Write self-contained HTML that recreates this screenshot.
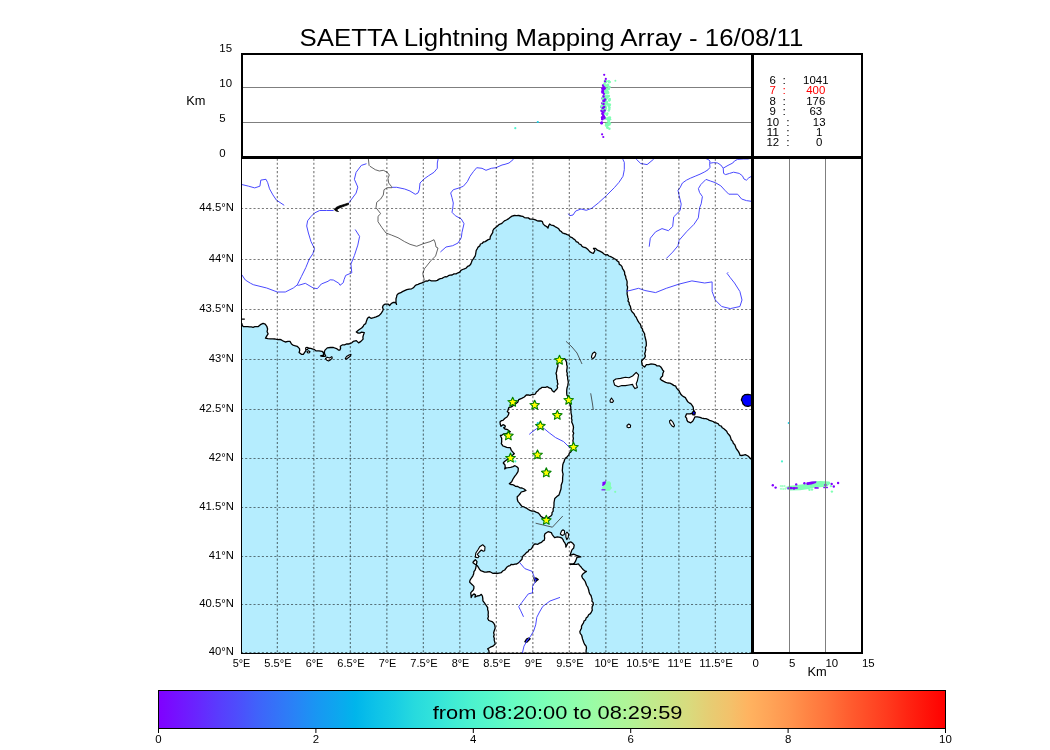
<!DOCTYPE html>
<html><head><meta charset="utf-8"><style>
html,body{margin:0;padding:0;background:#fff;width:1050px;height:750px;overflow:hidden}
svg{display:block;will-change:transform}
text{font-family:"Liberation Sans",sans-serif}
</style></head><body>
<svg width="1050" height="750" viewBox="0 0 1050 750">
<defs><clipPath id="mapclip"><rect x="241.5" y="157" width="510" height="496"/></clipPath></defs><g clip-path="url(#mapclip)"><rect x="241" y="157" width="511" height="496" fill="#b5edfe"/><polygon points="241.7,323.1 242.3,325.3 243.3,326.6 246.0,326.6 247.8,326.6 249.5,326.9 251.3,326.9 253.1,327.3 254.8,326.7 256.6,326.7 258.3,326.6 260.4,324.7 263.1,323.4 265.2,324.2 266.8,326.3 267.6,329.0 267.1,331.7 268.1,333.8 266.8,335.9 265.5,338.1 267.9,338.6 270.3,338.8 272.7,338.9 275.2,339.0 277.5,339.7 280.0,339.3 281.8,340.2 283.5,341.2 285.3,342.0 288.0,341.4 290.0,341.4 291.5,344.0 292.9,345.1 294.6,345.6 297.2,346.3 299.5,348.6 299.7,350.5 299.1,352.4 301.4,354.3 303.3,354.3 305.2,351.7 306.0,350.1 306.4,348.6 308.7,348.2 310.8,348.4 312.9,349.0 314.6,349.6 315.9,350.9 319.0,350.9 322.0,351.3 323.5,352.8 323.5,355.1 320.5,355.9 322.2,356.3 324.0,356.3 325.8,356.2 324.7,354.0 324.3,352.0 325.0,350.1 327.3,347.9 330.4,347.5 333.4,347.5 336.5,348.6 338.4,350.1 339.9,350.1 340.6,348.3 340.3,346.3 342.6,344.8 344.6,344.9 346.4,344.0 348.3,344.0 350.2,343.7 351.8,342.7 353.2,341.4 356.3,340.6 358.6,342.9 360.9,341.4 363.1,339.1 362.9,337.0 363.5,334.9 364.3,332.6 361.6,332.2 359.8,333.1 357.8,333.0 356.3,331.9 358.6,330.0 360.1,329.0 361.6,328.0 363.1,326.5 364.0,324.7 365.7,323.6 366.5,320.9 367.5,318.3 369.1,316.9 371.0,318.3 373.7,317.7 376.1,316.9 379.0,315.6 381.1,313.5 382.7,310.8 383.3,309.5 382.5,307.3 383.3,305.2 385.1,304.1 388.0,304.1 389.6,305.5 391.2,303.6 393.4,302.3 395.5,302.5 396.6,304.4 396.0,302.6 396.0,300.7 396.0,298.8 396.6,296.9 396.9,295.1 398.2,293.7 400.8,292.7 402.4,291.6 404.6,290.6 406.8,289.6 409.2,289.1 411.6,288.8 413.4,287.8 414.8,286.1 416.4,284.8 418.1,284.3 419.6,283.6 421.3,283.2 422.8,282.4 424.4,281.8 425.9,281.0 427.8,281.1 429.2,280.0 431.3,280.8 433.4,280.9 435.6,280.8 437.3,280.4 438.7,279.4 440.3,278.7 442.0,278.4 443.5,277.5 445.0,276.7 446.9,276.8 448.4,275.7 450.0,275.2 452.1,275.0 454.0,273.9 456.1,273.9 458.0,272.8 459.8,272.1 460.9,270.3 462.6,269.5 464.4,268.8 466.3,268.0 467.6,266.4 469.5,265.6 470.8,264.0 471.5,262.3 472.0,260.6 473.2,259.2 474.1,257.7 475.1,256.1 475.6,254.4 475.9,252.5 476.2,250.5 477.2,248.8 478.1,247.1 479.8,245.9 480.4,244.0 482.1,243.5 483.4,242.0 485.2,241.6 486.7,240.6 488.2,239.6 490.0,239.2 490.3,236.6 491.6,234.4 492.7,232.7 492.9,230.5 494.0,228.8 495.4,227.8 496.6,226.6 498.0,225.6 499.4,224.3 501.3,223.7 502.8,222.4 504.4,220.9 506.4,220.0 508.3,218.9 510.0,217.5 512.0,216.1 514.4,215.5 516.5,215.6 518.7,215.5 520.8,216.0 522.7,216.3 524.4,217.6 526.3,217.9 528.3,217.9 530.0,219.1 532.0,219.2 533.8,219.3 535.5,219.9 537.1,220.8 538.9,221.0 540.8,220.8 542.4,221.6 543.1,223.9 544.8,225.6 546.6,226.5 548.0,228.0 548.6,225.9 549.6,224.0 551.1,225.1 552.9,225.4 554.5,226.2 556.0,227.2 557.6,228.0 558.9,229.1 559.8,230.6 561.3,231.5 562.4,232.8 564.0,233.5 565.6,233.9 567.2,234.6 568.8,235.2 570.1,236.8 572.0,237.6 573.6,238.9 575.2,240.0 576.2,241.6 578.1,242.4 579.2,244.0 580.9,244.6 581.9,246.2 583.4,247.1 585.2,247.5 586.7,248.4 588.0,249.6 590.0,251.9 591.7,252.8 593.5,253.3 594.9,250.5 593.5,248.4 595.6,248.4 597.4,250.2 599.8,251.2 602.1,252.3 604.0,254.0 605.7,254.8 607.5,254.7 608.9,256.0 610.7,256.7 612.4,257.5 614.1,258.6 615.9,259.5 617.3,261.0 618.9,262.1 619.2,264.1 620.8,265.2 622.0,266.7 622.5,268.6 623.6,270.1 624.6,272.1 624.7,274.4 625.7,276.4 625.9,278.2 626.6,279.9 627.1,281.6 627.1,283.4 626.9,285.1 627.6,286.9 627.4,288.6 627.1,290.4 627.2,292.2 627.1,293.9 627.5,295.7 627.8,297.4 628.4,299.1 628.0,301.0 629.2,302.6 629.2,304.4 630.4,306.3 630.8,308.5 631.3,310.7 632.5,312.3 634.0,313.7 634.8,315.6 636.2,317.2 637.0,319.0 637.9,320.9 639.0,322.6 640.2,324.0 640.9,325.7 641.2,327.5 642.5,328.9 642.7,330.7 643.7,332.2 644.6,333.8 644.8,335.9 645.3,338.0 645.8,340.0 646.2,341.9 646.3,343.8 646.3,345.8 645.3,347.7 645.8,349.6 645.3,351.7 644.7,353.7 645.4,356.0 644.6,358.0 643.0,359.4 641.6,361.0 641.9,363.1 642.2,365.2 644.6,367.0 646.4,364.6 648.5,364.6 650.6,364.0 653.0,364.1 655.4,364.6 657.0,365.9 659.2,365.8 660.8,367.0 661.8,368.4 662.6,370.0 663.8,371.2 662.8,373.5 662.6,376.0 661.2,377.3 660.2,379.0 661.9,380.4 663.8,381.4 665.7,382.3 667.7,383.0 669.8,383.2 671.9,384.1 673.7,385.4 675.8,386.2 676.4,387.9 677.5,389.2 678.8,390.4 679.8,392.2 680.6,394.0 682.0,395.5 683.6,396.7 685.4,397.6 686.5,399.7 687.8,401.8 689.2,402.8 690.8,403.6 692.1,405.3 693.2,407.2 693.4,409.0 693.8,410.8 693.6,413.5 691.8,413.5 690.0,413.8 686.6,413.8 685.4,416.8 686.6,418.2 686.9,420.1 687.8,421.6 690.8,422.8 692.7,421.3 693.8,419.2 695.0,416.8 697.4,416.8 700.0,417.4 701.9,418.2 703.9,418.5 706.0,418.7 707.8,419.3 709.4,420.4 711.3,420.9 713.1,421.5 714.7,422.6 716.6,423.0 718.3,423.8 719.3,425.5 721.3,426.1 722.3,427.8 723.9,428.8 725.3,430.0 726.7,431.3 727.5,433.1 728.8,434.5 730.0,436.0 730.7,437.9 731.2,439.8 732.7,441.4 733.3,443.3 734.8,444.7 735.5,446.5 736.1,448.4 737.3,450.0 738.5,451.6 739.4,453.4 740.0,455.3 741.8,455.5 743.6,455.1 745.3,454.7 748.0,456.0 749.5,457.5 751.0,459.0 752.5,460.0 753.0,459.0 753.0,150.0 240.0,150.0 240.0,323.1" fill="#fff"/><polyline points="241.7,323.1 242.3,325.3 243.3,326.6 246.0,326.6 247.8,326.6 249.5,326.9 251.3,326.9 253.1,327.3 254.8,326.7 256.6,326.7 258.3,326.6 260.4,324.7 263.1,323.4 265.2,324.2 266.8,326.3 267.6,329.0 267.1,331.7 268.1,333.8 266.8,335.9 265.5,338.1 267.9,338.6 270.3,338.8 272.7,338.9 275.2,339.0 277.5,339.7 280.0,339.3 281.8,340.2 283.5,341.2 285.3,342.0 288.0,341.4 290.0,341.4 291.5,344.0 292.9,345.1 294.6,345.6 297.2,346.3 299.5,348.6 299.7,350.5 299.1,352.4 301.4,354.3 303.3,354.3 305.2,351.7 306.0,350.1 306.4,348.6 308.7,348.2 310.8,348.4 312.9,349.0 314.6,349.6 315.9,350.9 319.0,350.9 322.0,351.3 323.5,352.8 323.5,355.1 320.5,355.9 322.2,356.3 324.0,356.3 325.8,356.2 324.7,354.0 324.3,352.0 325.0,350.1 327.3,347.9 330.4,347.5 333.4,347.5 336.5,348.6 338.4,350.1 339.9,350.1 340.6,348.3 340.3,346.3 342.6,344.8 344.6,344.9 346.4,344.0 348.3,344.0 350.2,343.7 351.8,342.7 353.2,341.4 356.3,340.6 358.6,342.9 360.9,341.4 363.1,339.1 362.9,337.0 363.5,334.9 364.3,332.6 361.6,332.2 359.8,333.1 357.8,333.0 356.3,331.9 358.6,330.0 360.1,329.0 361.6,328.0 363.1,326.5 364.0,324.7 365.7,323.6 366.5,320.9 367.5,318.3 369.1,316.9 371.0,318.3 373.7,317.7 376.1,316.9 379.0,315.6 381.1,313.5 382.7,310.8 383.3,309.5 382.5,307.3 383.3,305.2 385.1,304.1 388.0,304.1 389.6,305.5 391.2,303.6 393.4,302.3 395.5,302.5 396.6,304.4 396.0,302.6 396.0,300.7 396.0,298.8 396.6,296.9 396.9,295.1 398.2,293.7 400.8,292.7 402.4,291.6 404.6,290.6 406.8,289.6 409.2,289.1 411.6,288.8 413.4,287.8 414.8,286.1 416.4,284.8 418.1,284.3 419.6,283.6 421.3,283.2 422.8,282.4 424.4,281.8 425.9,281.0 427.8,281.1 429.2,280.0 431.3,280.8 433.4,280.9 435.6,280.8 437.3,280.4 438.7,279.4 440.3,278.7 442.0,278.4 443.5,277.5 445.0,276.7 446.9,276.8 448.4,275.7 450.0,275.2 452.1,275.0 454.0,273.9 456.1,273.9 458.0,272.8 459.8,272.1 460.9,270.3 462.6,269.5 464.4,268.8 466.3,268.0 467.6,266.4 469.5,265.6 470.8,264.0 471.5,262.3 472.0,260.6 473.2,259.2 474.1,257.7 475.1,256.1 475.6,254.4 475.9,252.5 476.2,250.5 477.2,248.8 478.1,247.1 479.8,245.9 480.4,244.0 482.1,243.5 483.4,242.0 485.2,241.6 486.7,240.6 488.2,239.6 490.0,239.2 490.3,236.6 491.6,234.4 492.7,232.7 492.9,230.5 494.0,228.8 495.4,227.8 496.6,226.6 498.0,225.6 499.4,224.3 501.3,223.7 502.8,222.4 504.4,220.9 506.4,220.0 508.3,218.9 510.0,217.5 512.0,216.1 514.4,215.5 516.5,215.6 518.7,215.5 520.8,216.0 522.7,216.3 524.4,217.6 526.3,217.9 528.3,217.9 530.0,219.1 532.0,219.2 533.8,219.3 535.5,219.9 537.1,220.8 538.9,221.0 540.8,220.8 542.4,221.6 543.1,223.9 544.8,225.6 546.6,226.5 548.0,228.0 548.6,225.9 549.6,224.0 551.1,225.1 552.9,225.4 554.5,226.2 556.0,227.2 557.6,228.0 558.9,229.1 559.8,230.6 561.3,231.5 562.4,232.8 564.0,233.5 565.6,233.9 567.2,234.6 568.8,235.2 570.1,236.8 572.0,237.6 573.6,238.9 575.2,240.0 576.2,241.6 578.1,242.4 579.2,244.0 580.9,244.6 581.9,246.2 583.4,247.1 585.2,247.5 586.7,248.4 588.0,249.6 590.0,251.9 591.7,252.8 593.5,253.3 594.9,250.5 593.5,248.4 595.6,248.4 597.4,250.2 599.8,251.2 602.1,252.3 604.0,254.0 605.7,254.8 607.5,254.7 608.9,256.0 610.7,256.7 612.4,257.5 614.1,258.6 615.9,259.5 617.3,261.0 618.9,262.1 619.2,264.1 620.8,265.2 622.0,266.7 622.5,268.6 623.6,270.1 624.6,272.1 624.7,274.4 625.7,276.4 625.9,278.2 626.6,279.9 627.1,281.6 627.1,283.4 626.9,285.1 627.6,286.9 627.4,288.6 627.1,290.4 627.2,292.2 627.1,293.9 627.5,295.7 627.8,297.4 628.4,299.1 628.0,301.0 629.2,302.6 629.2,304.4 630.4,306.3 630.8,308.5 631.3,310.7 632.5,312.3 634.0,313.7 634.8,315.6 636.2,317.2 637.0,319.0 637.9,320.9 639.0,322.6 640.2,324.0 640.9,325.7 641.2,327.5 642.5,328.9 642.7,330.7 643.7,332.2 644.6,333.8 644.8,335.9 645.3,338.0 645.8,340.0 646.2,341.9 646.3,343.8 646.3,345.8 645.3,347.7 645.8,349.6 645.3,351.7 644.7,353.7 645.4,356.0 644.6,358.0 643.0,359.4 641.6,361.0 641.9,363.1 642.2,365.2 644.6,367.0 646.4,364.6 648.5,364.6 650.6,364.0 653.0,364.1 655.4,364.6 657.0,365.9 659.2,365.8 660.8,367.0 661.8,368.4 662.6,370.0 663.8,371.2 662.8,373.5 662.6,376.0 661.2,377.3 660.2,379.0 661.9,380.4 663.8,381.4 665.7,382.3 667.7,383.0 669.8,383.2 671.9,384.1 673.7,385.4 675.8,386.2 676.4,387.9 677.5,389.2 678.8,390.4 679.8,392.2 680.6,394.0 682.0,395.5 683.6,396.7 685.4,397.6 686.5,399.7 687.8,401.8 689.2,402.8 690.8,403.6 692.1,405.3 693.2,407.2 693.4,409.0 693.8,410.8 693.6,413.5 691.8,413.5 690.0,413.8 686.6,413.8 685.4,416.8 686.6,418.2 686.9,420.1 687.8,421.6 690.8,422.8 692.7,421.3 693.8,419.2 695.0,416.8 697.4,416.8 700.0,417.4 701.9,418.2 703.9,418.5 706.0,418.7 707.8,419.3 709.4,420.4 711.3,420.9 713.1,421.5 714.7,422.6 716.6,423.0 718.3,423.8 719.3,425.5 721.3,426.1 722.3,427.8 723.9,428.8 725.3,430.0 726.7,431.3 727.5,433.1 728.8,434.5 730.0,436.0 730.7,437.9 731.2,439.8 732.7,441.4 733.3,443.3 734.8,444.7 735.5,446.5 736.1,448.4 737.3,450.0 738.5,451.6 739.4,453.4 740.0,455.3 741.8,455.5 743.6,455.1 745.3,454.7 748.0,456.0 749.5,457.5 751.0,459.0 752.5,460.0" fill="none" stroke="#000" stroke-width="1.3" stroke-linejoin="round"/><polygon points="560.7,358.7 562.7,359.1 564.7,358.7 565.9,360.6 566.7,362.7 566.6,364.5 567.2,366.2 567.1,368.0 566.8,369.8 566.7,371.6 567.3,373.3 567.0,375.1 567.7,376.9 567.6,378.7 568.0,380.4 568.3,382.2 568.0,384.0 567.7,385.9 567.1,387.7 566.8,389.5 566.7,391.4 566.7,393.3 566.9,395.3 568.3,396.8 568.7,398.7 569.5,400.4 569.6,402.2 570.0,404.0 570.5,405.7 570.8,407.5 570.7,409.3 571.0,411.1 571.0,412.9 571.4,414.6 571.8,416.4 571.4,418.3 572.0,420.0 571.7,422.0 572.5,423.8 573.2,425.7 573.5,427.6 573.2,429.6 572.8,431.4 573.7,433.3 573.0,435.1 573.1,436.9 573.4,438.7 572.9,440.6 573.2,442.4 573.2,444.4 572.6,446.3 571.8,448.2 571.8,450.2 570.8,452.0 569.4,453.0 568.8,454.8 567.7,456.1 566.7,457.4 565.2,458.4 564.5,460.0 564.1,461.6 563.3,463.1 562.8,464.8 562.6,466.7 562.5,468.5 562.3,470.4 562.6,472.3 563.1,474.1 562.8,476.0 562.6,477.9 562.6,479.8 562.5,481.7 561.8,483.5 561.2,485.3 561.2,487.2 560.9,489.3 560.2,491.3 559.6,493.2 558.8,495.2 557.3,496.1 556.1,497.3 554.8,498.4 554.4,500.5 554.0,502.6 554.0,504.8 553.8,506.9 553.1,509.0 553.2,511.2 552.0,512.6 552.0,514.6 550.8,516.0 548.9,517.3 547.6,519.2 545.3,518.2 542.8,517.6 540.9,516.3 539.6,514.4 538.0,512.8 536.0,512.1 534.1,511.2 532.0,511.1 530.0,510.4 528.4,509.5 527.0,508.4 525.3,507.7 523.8,506.8 522.0,506.4 520.6,504.8 519.5,503.1 518.0,501.6 517.3,499.3 517.2,496.8 518.7,495.4 520.1,493.8 521.2,492.0 523.6,491.3 526.0,490.4 524.1,489.0 522.0,488.0 519.8,487.8 517.8,486.5 515.6,486.4 514.2,485.3 512.6,484.6 510.8,484.5 509.3,483.7 511.7,481.7 513.0,479.0 514.7,476.3 516.3,474.3 518.0,471.7 518.2,470.0 518.3,468.3 516.8,466.7 515.0,465.7 513.0,466.7 510.7,467.4 508.3,467.7 506.3,467.9 504.7,469.0 505.2,467.0 505.0,465.0 503.3,463.0 504.3,461.7 506.5,460.0 508.2,458.9 510.0,458.0 511.0,456.2 512.7,455.0 514.3,453.7 513.3,452.7 511.3,450.3 510.3,447.7 508.5,447.6 506.7,447.3 504.9,446.6 503.0,446.0 501.3,443.7 501.7,441.9 501.6,440.1 501.7,438.3 500.3,435.5 501.7,435.3 503.5,434.0 505.7,433.7 508.1,433.0 510.3,431.7 507.7,429.7 505.0,429.0 503.7,427.7 505.3,427.0 505.0,425.7 503.0,424.7 501.0,426.3 500.3,424.3 500.0,422.0 501.3,420.7 503.0,420.3 505.0,418.3 507.0,417.0 508.3,415.0 509.0,412.7 507.3,411.7 508.0,410.3 509.0,407.3 510.7,407.1 512.3,406.3 515.0,404.3 517.7,402.3 518.7,399.7 521.7,398.3 524.3,397.0 526.3,395.0 528.2,394.8 530.0,395.3 531.7,394.7 533.6,394.7 535.3,394.0 536.3,392.1 538.0,390.7 539.1,389.3 540.7,388.4 542.0,387.3 543.8,387.3 545.6,387.3 547.3,386.7 549.2,387.9 551.3,388.7 552.3,390.7 554.0,392.0 555.3,390.6 556.7,389.3 557.6,387.7 557.1,385.7 558.0,384.0 557.4,382.4 557.4,380.6 556.8,379.0 556.7,377.3 556.6,375.3 556.0,373.3 556.6,371.6 556.9,369.8 557.3,368.0 557.9,366.3 557.8,364.5 558.0,362.7 559.2,360.6" fill="#fff" stroke="#000" stroke-width="1.3" stroke-linejoin="round"/><polygon points="489.3,653.5 488.8,650.4 487.7,648.8 490.4,647.2 493.1,646.1 495.2,644.0 494.7,641.9 494.2,640.1 494.3,638.2 493.6,636.5 494.2,634.8 493.6,632.9 494.1,631.2 495.2,628.0 494.7,624.8 493.6,623.0 492.0,621.6 488.8,620.5 487.7,618.4 488.4,616.7 488.1,614.9 488.3,613.1 488.2,611.3 487.6,609.5 487.7,607.7 486.7,606.1 485.6,604.5 484.3,602.6 482.9,600.8 482.8,598.4 482.4,596.0 481.3,594.4 479.4,595.7 477.1,596.0 474.9,597.1 475.5,594.9 473.9,593.9 472.1,595.4 471.2,597.6 471.0,595.2 470.7,592.8 471.9,591.4 473.3,590.1 473.9,588.3 473.9,586.4 472.5,584.9 471.0,583.5 469.6,582.1 470.1,580.0 471.7,577.7 472.9,575.8 473.7,573.7 473.9,571.7 475.1,570.1 475.7,568.3 476.3,565.0 477.0,561.7 475.3,559.7 473.3,561.7 473.0,562.7 474.7,564.0 477.3,565.7 478.4,567.3 479.3,569.0 480.7,570.6 482.7,571.3 484.6,572.1 486.7,572.0 490.0,571.7 492.7,573.3 494.7,573.1 496.7,573.5 499.0,573.1 501.3,572.7 502.7,571.0 504.7,570.0 506.7,567.3 508.2,566.2 510.0,565.6 511.3,564.3 513.1,564.6 514.9,564.1 516.7,564.0 519.3,562.3 520.5,560.7 522.0,559.3 522.2,557.6 523.0,556.0 524.9,554.3 526.6,552.4 528.2,551.6 529.0,549.8 530.8,549.3 532.0,547.9 533.1,545.5 535.0,543.8 537.8,544.3 539.5,543.1 541.5,542.4 542.7,541.0 544.3,540.1 544.7,538.1 544.4,536.0 544.8,534.0 546.4,532.7 548.1,531.7 551.3,532.6 552.1,534.3 553.2,535.9 554.6,537.7 557.4,536.8 560.2,537.3 561.9,538.1 563.0,539.6 563.7,541.4 564.9,542.9 565.8,544.9 565.8,547.1 566.8,545.2 567.7,543.3 569.2,542.3 571.0,541.9 572.8,543.3 574.2,545.2 573.7,548.0 571.9,549.9 570.9,552.7 570.0,555.5 571.7,554.8 573.3,554.1 574.9,554.7 576.5,555.5 578.7,556.1 580.8,556.9 578.9,557.2 577.0,557.3 576.3,559.2 575.6,561.1 574.2,563.4 572.1,564.0 570.0,563.9 570.0,564.6 572.1,564.2 574.2,564.4 576.3,564.3 578.4,563.9 579.5,565.4 580.8,566.7 581.9,568.1 583.1,569.5 584.6,570.8 586.4,571.4 584.4,572.7 582.6,574.2 581.7,576.0 582.5,578.1 584.0,579.8 585.2,581.5 585.9,583.5 586.6,585.5 587.8,587.2 588.7,590.0 589.1,592.0 589.7,593.9 591.0,595.5 591.5,597.4 592.1,599.2 591.9,601.1 593.2,602.7 593.3,604.6 592.3,606.3 592.0,608.1 592.3,610.1 591.5,611.8 590.4,613.6 588.6,614.8 587.7,616.7 586.1,618.1 585.6,619.9 584.0,621.1 583.5,622.9 582.5,624.4 581.5,626.1 581.5,628.2 580.6,629.9 579.8,631.7 580.3,633.6 581.6,635.1 582.1,637.0 582.5,638.9 583.2,640.8 583.9,642.7 584.7,644.5 586.1,646.1 586.5,648.2 586.1,650.3 586.1,652.4 586.1,653.5" fill="#fff" stroke="#000" stroke-width="1.3" stroke-linejoin="round"/><polygon points="613.4,380.8 615.8,379.0 620.6,378.4 625.4,377.2 629.0,377.8 632.6,376.0 636.2,372.4 638.6,374.8 637.4,380.8 636.2,383.8 637.4,387.4 635.0,388.6 633.2,386.2 632.6,384.4 629.0,385.0 625.4,385.6 621.8,385.6 618.2,386.8 614.6,385.0" fill="#fff" stroke="#000" stroke-width="1.1" stroke-linejoin="round"/><polygon points="610.0,400.5 611.5,398.0 612.5,399.5 613.6,401.0 612.5,402.4 610.3,402.2" fill="#fff" stroke="#000" stroke-width="1.1" stroke-linejoin="round"/><polygon points="627.0,425.5 628.8,424.0 630.6,425.2 630.4,427.2 628.5,427.8 627.0,427.0" fill="#fff" stroke="#000" stroke-width="1.1" stroke-linejoin="round"/><polygon points="669.5,421.0 670.8,419.8 672.8,422.0 674.5,425.5 673.8,427.0 672.0,426.0 669.8,423.0" fill="#fff" stroke="#000" stroke-width="1.1" stroke-linejoin="round"/><polygon points="591.5,356.5 592.5,353.5 594.5,352.0 596.0,353.3 595.0,356.5 593.0,358.6 591.7,358.0" fill="#fff" stroke="#000" stroke-width="1.1" stroke-linejoin="round"/><polygon points="325.5,358.5 327.5,357.2 329.5,358.0 331.8,356.6 332.3,358.2 330.2,360.0 328.5,361.0 326.5,360.0" fill="#fff" stroke="#000" stroke-width="1.1" stroke-linejoin="round"/><polygon points="305.5,348.0 307.0,347.3 308.3,348.0 307.5,349.5 306.0,349.5" fill="#fff" stroke="#000" stroke-width="1.1" stroke-linejoin="round"/><polygon points="307.0,351.5 308.5,350.8 310.0,351.8 309.0,353.0 307.5,352.8" fill="#fff" stroke="#000" stroke-width="1.1" stroke-linejoin="round"/><polygon points="345.3,358.5 346.5,356.5 349.0,355.0 351.0,354.4 350.6,356.0 348.2,357.8 346.2,359.3" fill="#fff" stroke="#000" stroke-width="1.1" stroke-linejoin="round"/><polygon points="479.7,546.7 482.7,544.7 485.0,547.0 484.7,550.7 483.3,551.3 481.3,550.0 479.3,552.0 477.3,554.3 479.0,556.3 478.0,557.7 475.3,557.3 475.7,553.7 476.0,552.7 478.3,549.3" fill="#fff" stroke="#000" stroke-width="1.1" stroke-linejoin="round"/><polygon points="560.3,534.0 561.5,531.0 563.0,529.8 564.6,531.0 564.3,534.5 562.3,535.5" fill="#fff" stroke="#000" stroke-width="1.1" stroke-linejoin="round"/><polygon points="565.8,533.5 567.0,532.1 568.6,534.0 568.2,537.5 566.8,539.6 565.9,537.0" fill="#fff" stroke="#000" stroke-width="1.1" stroke-linejoin="round"/><polygon points="741.3,400.0 742.5,396.5 745.0,394.6 748.0,394.4 751.5,395.0 751.5,405.5 748.0,406.4 745.0,405.8 743.0,404.0 742.3,401.8" fill="#0000ff" stroke="#000" stroke-width="1.2" stroke-linejoin="round"/><polygon points="692.3,412.4 694.0,410.8 695.3,412.5 694.8,414.8 692.8,414.8" fill="#0000ff" stroke="#000" stroke-width="1.2" stroke-linejoin="round"/><polygon points="533.8,577.8 536.5,578.2 538.3,579.5 536.5,580.8 535.3,582.1 534.5,580.0" fill="#0000ff" stroke="#000" stroke-width="1.2" stroke-linejoin="round"/><polygon points="524.8,641.8 526.5,639.0 528.5,638.0 530.2,638.8 528.5,640.5 526.5,642.5" fill="#0000ff" stroke="#000" stroke-width="1.2" stroke-linejoin="round"/><polygon points="348.5,203.0 344.0,204.5 339.0,206.0 336.0,207.5 334.2,209.6 336.0,211.0 338.5,211.5 336.5,210.0 339.0,208.2 343.0,206.6 348.5,204.6" fill="#000" stroke="#000" stroke-width="0.8"/><line x1="241" y1="319.2" x2="244.8" y2="319.2" stroke="#000" stroke-width="1.2"/><polyline points="241.7,184.5 248.7,186.2 254.7,187.9 259.9,186.2 260.8,180.1 266.0,179.3 267.7,182.7 269.5,188.8 272.9,194.9 276.4,200.1 284.2,205.3" fill="none" stroke="#4a4aff" stroke-width="1.0" stroke-linejoin="round"/><polyline points="366.5,163.7 361.3,165.4 356.1,172.3 354.4,179.3 357.8,187.1 356.1,193.1 350.9,200.1 349.2,202.7" fill="none" stroke="#4a4aff" stroke-width="1.0" stroke-linejoin="round"/><polyline points="333.6,210.5 326.6,210.5 319.7,210.5 314.5,213.0 311.0,216.5 307.6,220.8 306.7,226.0 308.4,233.0 311.0,241.6 314.5,248.6 312.8,253.8 309.3,259.0 305.8,267.6 301.5,276.3 297.2,285.0" fill="none" stroke="#4a4aff" stroke-width="1.0" stroke-linejoin="round"/><polyline points="241.7,274.6 245.3,280.0 250.4,283.2 253.3,284.7 266.7,288.0 277.3,292.0 285.3,292.0 293.3,288.0 297.2,285.0 298.7,285.3 305.3,283.3 313.3,288.0 317.3,288.7 321.3,284.0 328.0,281.3 330.1,279.8 333.3,280.0 338.8,283.2 340.0,285.3 343.3,282.7 344.0,279.8 345.7,275.4 351.8,272.8 350.9,264.2 354.4,255.5 357.8,245.1 359.6,236.4 355.2,229.5" fill="none" stroke="#4a4aff" stroke-width="1.0" stroke-linejoin="round"/><polyline points="392.0,187.3 396.7,187.3 404.7,189.0 410.0,191.0 415.3,194.3 418.0,193.0 419.3,189.7 420.0,183.0 424.0,179.0 428.7,175.7 434.0,172.3 437.3,168.3 437.3,163.0 438.0,159.7 438.5,157.5" fill="none" stroke="#4a4aff" stroke-width="1.0" stroke-linejoin="round"/><polyline points="440.4,252.0 446.0,247.0 452.7,245.7 458.0,243.0 461.3,237.7 462.0,232.3 464.0,223.7 461.3,219.0 455.3,215.7 452.0,212.3 452.7,208.3 453.3,203.0 452.0,197.7 450.7,193.0 453.3,189.7 458.0,188.3 463.3,186.3 467.3,181.7 470.0,176.3 473.3,171.7 476.7,167.7 482.0,168.3 486.0,170.3 491.3,168.3 496.0,167.7 502.0,165.0 505.0,164.3 509.0,163.0 513.0,159.7 515.0,157.5" fill="none" stroke="#4a4aff" stroke-width="1.0" stroke-linejoin="round"/><polyline points="568.3,213.7 569.7,215.7 573.0,215.0 575.7,211.0 581.0,209.0 586.3,210.3 591.7,208.3 598.3,203.0 606.3,195.7 614.3,187.7 619.0,182.3 623.0,176.3 624.3,169.7 624.3,162.3 623.0,159.7 622.5,157.5" fill="none" stroke="#4a4aff" stroke-width="1.0" stroke-linejoin="round"/><polyline points="634.5,157.5 636.4,159.3 640.7,163.5 647.1,164.6 653.5,159.3 654.5,157.5" fill="none" stroke="#4a4aff" stroke-width="1.0" stroke-linejoin="round"/><polyline points="649.2,246.7 650.3,238.2 655.6,231.8 662.0,228.6 668.4,230.7 672.7,226.5 673.7,216.9 680.1,210.5 681.2,204.1 679.1,195.5 678.0,190.2 680.0,187.8 682.4,183.0 686.4,180.2 690.4,178.2 695.2,176.2 700.0,174.2 704.8,171.8 708.0,169.8 710.0,167.4 709.6,163.4 710.0,161.0 708.0,159.4 706.4,159.0 705.5,157.5" fill="none" stroke="#4a4aff" stroke-width="1.0" stroke-linejoin="round"/><polyline points="710.0,163.2 713.6,162.6 717.6,163.0 720.8,165.0 723.2,168.2 723.6,173.4 725.6,174.6 729.6,173.4 733.6,172.2 739.2,173.4 742.4,175.8 744.0,179.0 746.4,180.2 748.8,177.8 752.0,176.0" fill="none" stroke="#4a4aff" stroke-width="1.0" stroke-linejoin="round"/><polyline points="723.2,168.2 728.0,165.4 732.8,163.0 734.4,161.0 737.6,159.4 743.2,159.0 748.0,159.0 752.0,158.0" fill="none" stroke="#4a4aff" stroke-width="1.0" stroke-linejoin="round"/><polyline points="666.3,258.5 672.7,252.1 678.0,245.7 679.1,240.3 686.5,231.8 694.0,224.3 698.3,217.9 699.6,207.8 701.2,203.8 702.4,196.6 699.6,192.6 698.4,188.6 700.8,184.6 706.0,179.4 710.4,181.0 715.2,182.6 720.8,185.8 724.8,190.2 728.8,194.2 737.6,194.2 741.6,199.0 746.4,200.6 752.0,201.4" fill="none" stroke="#4a4aff" stroke-width="1.0" stroke-linejoin="round"/><polyline points="626.4,291.2 630.0,290.5 638.5,288.3 644.9,290.5 655.6,292.6 666.3,288.3 679.1,284.1 691.9,280.9 704.7,283.0 712.1,281.9 712.1,291.5 715.3,300.0 721.7,306.5 730.3,308.6 739.9,306.5 742.0,300.0 739.9,291.5 734.5,283.0 730.3,277.7 727.1,273.4 728.1,272.3" fill="none" stroke="#4a4aff" stroke-width="1.0" stroke-linejoin="round"/><polyline points="529.2,434.4 532.0,432.0 536.4,428.8 540.0,427.5 544.4,428.8 549.2,432.8 555.6,437.6 563.6,441.6 570.0,448.0" fill="none" stroke="#4a4aff" stroke-width="1.0" stroke-linejoin="round"/><polyline points="519.4,562.3 524.8,568.6 532.0,571.3 533.8,575.8 535.6,581.2 532.5,586.4 532.5,592.8 528.3,593.9 525.1,598.1 521.9,602.4 518.7,606.7 520.8,610.9 523.5,616.8" fill="none" stroke="#4a4aff" stroke-width="1.0" stroke-linejoin="round"/><polyline points="560.0,597.4 550.0,601.0 542.8,606.4 539.5,612.0 536.8,617.3 535.7,624.8 533.6,631.2 530.4,636.5 527.5,640.0 524.0,646.1 522.4,653.0" fill="none" stroke="#4a4aff" stroke-width="1.0" stroke-linejoin="round"/><polyline points="368.2,157.5 368.5,160.0 369.1,165.4 370.0,166.3 375.3,169.7 379.3,171.0 383.3,170.3 387.3,172.3 389.3,175.0 388.0,178.3 388.7,183.0 391.3,186.3 392.0,187.7 387.3,187.7 384.0,189.7 383.3,195.0 380.7,199.0 376.7,202.3 376.0,207.7 380.7,213.7 378.0,216.3 378.0,221.7 382.0,227.7 386.0,233.0 391.3,235.0 398.0,237.7 404.7,241.7 410.0,244.3 416.7,246.3 423.3,243.7 430.0,241.7 434.0,239.7 435.3,243.0 436.0,247.0 438.0,248.0 435.6,256.0 430.8,260.8 424.4,268.8 422.8,273.6 424.4,280.5" fill="none" stroke="#555" stroke-width="0.9" stroke-linejoin="round"/><polyline points="566.0,341.3 572.0,347.0 577.0,353.0 582.0,364.0" fill="none" stroke="#333" stroke-width="0.8"/><polyline points="590.7,393.3 591.5,398.0 592.5,404.0 593.3,410.0" fill="none" stroke="#333" stroke-width="0.8"/><polyline points="535.6,523.2 552.4,527.2 562.8,516.0" fill="none" stroke="#333" stroke-width="0.8"/><line x1="277.35" y1="652.3" x2="277.35" y2="157" stroke="#000" stroke-width="1.2" stroke-dasharray="2.0833 2.0833" opacity="0.5"/><line x1="313.85" y1="652.3" x2="313.85" y2="157" stroke="#000" stroke-width="1.2" stroke-dasharray="2.0833 2.0833" opacity="0.5"/><line x1="350.35" y1="652.3" x2="350.35" y2="157" stroke="#000" stroke-width="1.2" stroke-dasharray="2.0833 2.0833" opacity="0.5"/><line x1="386.85" y1="652.3" x2="386.85" y2="157" stroke="#000" stroke-width="1.2" stroke-dasharray="2.0833 2.0833" opacity="0.5"/><line x1="423.35" y1="652.3" x2="423.35" y2="157" stroke="#000" stroke-width="1.2" stroke-dasharray="2.0833 2.0833" opacity="0.5"/><line x1="459.85" y1="652.3" x2="459.85" y2="157" stroke="#000" stroke-width="1.2" stroke-dasharray="2.0833 2.0833" opacity="0.5"/><line x1="496.35" y1="652.3" x2="496.35" y2="157" stroke="#000" stroke-width="1.2" stroke-dasharray="2.0833 2.0833" opacity="0.5"/><line x1="532.85" y1="652.3" x2="532.85" y2="157" stroke="#000" stroke-width="1.2" stroke-dasharray="2.0833 2.0833" opacity="0.5"/><line x1="569.35" y1="652.3" x2="569.35" y2="157" stroke="#000" stroke-width="1.2" stroke-dasharray="2.0833 2.0833" opacity="0.5"/><line x1="605.85" y1="652.3" x2="605.85" y2="157" stroke="#000" stroke-width="1.2" stroke-dasharray="2.0833 2.0833" opacity="0.5"/><line x1="642.35" y1="652.3" x2="642.35" y2="157" stroke="#000" stroke-width="1.2" stroke-dasharray="2.0833 2.0833" opacity="0.5"/><line x1="678.85" y1="652.3" x2="678.85" y2="157" stroke="#000" stroke-width="1.2" stroke-dasharray="2.0833 2.0833" opacity="0.5"/><line x1="715.35" y1="652.3" x2="715.35" y2="157" stroke="#000" stroke-width="1.2" stroke-dasharray="2.0833 2.0833" opacity="0.5"/><line x1="241" y1="208.55" x2="752" y2="208.55" stroke="#000" stroke-width="1.1" stroke-dasharray="2.0833 2.0833" opacity="0.52"/><line x1="241" y1="259.55" x2="752" y2="259.55" stroke="#000" stroke-width="1.1" stroke-dasharray="2.0833 2.0833" opacity="0.52"/><line x1="241" y1="309.55" x2="752" y2="309.55" stroke="#000" stroke-width="1.1" stroke-dasharray="2.0833 2.0833" opacity="0.52"/><line x1="241" y1="359.55" x2="752" y2="359.55" stroke="#000" stroke-width="1.1" stroke-dasharray="2.0833 2.0833" opacity="0.52"/><line x1="241" y1="409.55" x2="752" y2="409.55" stroke="#000" stroke-width="1.1" stroke-dasharray="2.0833 2.0833" opacity="0.52"/><line x1="241" y1="458.55" x2="752" y2="458.55" stroke="#000" stroke-width="1.1" stroke-dasharray="2.0833 2.0833" opacity="0.52"/><line x1="241" y1="507.55" x2="752" y2="507.55" stroke="#000" stroke-width="1.1" stroke-dasharray="2.0833 2.0833" opacity="0.52"/><line x1="241" y1="556.55" x2="752" y2="556.55" stroke="#000" stroke-width="1.1" stroke-dasharray="2.0833 2.0833" opacity="0.52"/><line x1="241" y1="604.55" x2="752" y2="604.55" stroke="#000" stroke-width="1.1" stroke-dasharray="2.0833 2.0833" opacity="0.52"/><line x1="241" y1="652.55" x2="752" y2="652.55" stroke="#000" stroke-width="1.1" stroke-dasharray="2.0833 2.0833" opacity="0.52"/></g><polygon points="602.5,482 605.5,481.3 606.5,482.5 605,485.5 602.2,486" fill="#8000ff"/><polygon points="606,481.5 609.5,481.2 611,483 610.8,486 612,488 609.5,490.8 606,490.8 603,490 601.8,488 603.5,486 605.5,484" fill="#81ffb4"/><polygon points="601.5,489.2 605.5,489.2 605.5,490.4 601.5,490.4" fill="#8000ff"/><circle cx="615.2" cy="491.8" r="1.1" fill="#81ffb4"/><circle cx="537.8" cy="423" r="1.1" fill="#18cde4"/><circle cx="515.3" cy="461.4" r="1.1" fill="#4df3ce"/><polygon points="559.5,355.2 560.9,358.3 564.3,358.7 561.7,360.9 562.4,364.2 559.5,362.5 556.6,364.2 557.3,360.9 554.7,358.7 558.1,358.3" fill="#ffff00" stroke="#008000" stroke-width="1.1" stroke-linejoin="round"/><polygon points="512.7,397.2 514.1,400.3 517.5,400.7 514.9,402.9 515.6,406.2 512.7,404.5 509.8,406.2 510.5,402.9 507.9,400.7 511.3,400.3" fill="#ffff00" stroke="#008000" stroke-width="1.1" stroke-linejoin="round"/><polygon points="534.7,400.2 536.1,403.3 539.5,403.7 536.9,405.9 537.6,409.2 534.7,407.5 531.8,409.2 532.5,405.9 529.9,403.7 533.3,403.3" fill="#ffff00" stroke="#008000" stroke-width="1.1" stroke-linejoin="round"/><polygon points="568.7,395.2 570.1,398.3 573.5,398.7 570.9,400.9 571.6,404.2 568.7,402.5 565.8,404.2 566.5,400.9 563.9,398.7 567.3,398.3" fill="#ffff00" stroke="#008000" stroke-width="1.1" stroke-linejoin="round"/><polygon points="557.3,410.3 558.7,413.4 562.1,413.8 559.5,416.0 560.2,419.3 557.3,417.6 554.4,419.3 555.1,416.0 552.5,413.8 555.9,413.4" fill="#ffff00" stroke="#008000" stroke-width="1.1" stroke-linejoin="round"/><polygon points="540.4,421.0 541.8,424.1 545.2,424.5 542.6,426.7 543.3,430.0 540.4,428.3 537.5,430.0 538.2,426.7 535.6,424.5 539.0,424.1" fill="#ffff00" stroke="#008000" stroke-width="1.1" stroke-linejoin="round"/><polygon points="508.4,430.8 509.8,433.9 513.2,434.3 510.6,436.5 511.3,439.8 508.4,438.1 505.5,439.8 506.2,436.5 503.6,434.3 507.0,433.9" fill="#ffff00" stroke="#008000" stroke-width="1.1" stroke-linejoin="round"/><polygon points="573.5,442.2 574.9,445.3 578.3,445.7 575.7,447.9 576.4,451.2 573.5,449.5 570.6,451.2 571.3,447.9 568.7,445.7 572.1,445.3" fill="#ffff00" stroke="#008000" stroke-width="1.1" stroke-linejoin="round"/><polygon points="537.5,449.9 538.9,453.0 542.3,453.4 539.7,455.6 540.4,458.9 537.5,457.2 534.6,458.9 535.3,455.6 532.7,453.4 536.1,453.0" fill="#ffff00" stroke="#008000" stroke-width="1.1" stroke-linejoin="round"/><polygon points="510.5,453.1 511.9,456.2 515.3,456.6 512.7,458.8 513.4,462.1 510.5,460.4 507.6,462.1 508.3,458.8 505.7,456.6 509.1,456.2" fill="#ffff00" stroke="#008000" stroke-width="1.1" stroke-linejoin="round"/><polygon points="546.3,467.8 547.7,470.9 551.1,471.3 548.5,473.5 549.2,476.8 546.3,475.1 543.4,476.8 544.1,473.5 541.5,471.3 544.9,470.9" fill="#ffff00" stroke="#008000" stroke-width="1.1" stroke-linejoin="round"/><polygon points="546.3,515.3 547.7,518.4 551.1,518.8 548.5,521.0 549.2,524.3 546.3,522.6 543.4,524.3 544.1,521.0 541.5,518.8 544.9,518.4" fill="#ffff00" stroke="#008000" stroke-width="1.1" stroke-linejoin="round"/><rect x="241.5" y="157" width="511" height="496.5" fill="none" stroke="#000" stroke-width="1"/><line x1="243" y1="87.5" x2="751" y2="87.5" stroke="#7f7f7f" stroke-width="1"/><line x1="243" y1="122.5" x2="751" y2="122.5" stroke="#7f7f7f" stroke-width="1"/><circle cx="602.6" cy="98.3" r="1.25" fill="#8000ff"/><circle cx="601.5" cy="110.7" r="1.25" fill="#8000ff"/><circle cx="602.5" cy="106.4" r="1.25" fill="#8000ff"/><circle cx="603.8" cy="88.2" r="1.25" fill="#8000ff"/><circle cx="603.5" cy="87.4" r="1.25" fill="#8000ff"/><circle cx="602.4" cy="88.7" r="1.25" fill="#8000ff"/><circle cx="604.0" cy="102.1" r="1.25" fill="#8000ff"/><circle cx="602.8" cy="90.7" r="1.25" fill="#8000ff"/><circle cx="604.4" cy="109.8" r="1.25" fill="#8000ff"/><circle cx="602.6" cy="107.9" r="1.25" fill="#8000ff"/><circle cx="601.5" cy="123.1" r="1.25" fill="#8000ff"/><circle cx="602.3" cy="118.6" r="1.25" fill="#8000ff"/><circle cx="602.5" cy="91.5" r="1.25" fill="#8000ff"/><circle cx="604.8" cy="97.7" r="1.25" fill="#8000ff"/><circle cx="604.0" cy="92.9" r="1.25" fill="#8000ff"/><circle cx="602.5" cy="110.3" r="1.25" fill="#8000ff"/><circle cx="601.5" cy="106.8" r="1.25" fill="#8000ff"/><circle cx="602.8" cy="88.3" r="1.25" fill="#8000ff"/><circle cx="602.7" cy="111.9" r="1.25" fill="#8000ff"/><circle cx="604.0" cy="97.9" r="1.25" fill="#8000ff"/><circle cx="602.3" cy="103.2" r="1.25" fill="#8000ff"/><circle cx="603.6" cy="116.2" r="1.25" fill="#8000ff"/><circle cx="604.0" cy="95.3" r="1.25" fill="#8000ff"/><circle cx="604.2" cy="106.0" r="1.25" fill="#8000ff"/><circle cx="602.3" cy="113.7" r="1.25" fill="#8000ff"/><circle cx="601.7" cy="123.2" r="1.25" fill="#8000ff"/><circle cx="603.8" cy="101.9" r="1.25" fill="#8000ff"/><circle cx="603.7" cy="91.8" r="1.25" fill="#8000ff"/><circle cx="604.3" cy="87.5" r="1.25" fill="#8000ff"/><circle cx="603.2" cy="115.1" r="1.25" fill="#8000ff"/><circle cx="605.4" cy="88.9" r="1.25" fill="#81ffb4"/><circle cx="606.9" cy="91.5" r="1.25" fill="#81ffb4"/><circle cx="605.6" cy="107.5" r="1.25" fill="#81ffb4"/><circle cx="606.5" cy="81.2" r="1.25" fill="#81ffb4"/><circle cx="607.4" cy="97.6" r="1.25" fill="#81ffb4"/><circle cx="608.1" cy="123.9" r="1.25" fill="#81ffb4"/><circle cx="607.7" cy="104.2" r="1.25" fill="#81ffb4"/><circle cx="604.3" cy="111.4" r="1.25" fill="#81ffb4"/><circle cx="608.7" cy="121.5" r="1.25" fill="#81ffb4"/><circle cx="608.8" cy="120.4" r="1.25" fill="#81ffb4"/><circle cx="606.4" cy="98.7" r="1.25" fill="#81ffb4"/><circle cx="607.8" cy="85.7" r="1.25" fill="#81ffb4"/><circle cx="604.4" cy="83.8" r="1.25" fill="#81ffb4"/><circle cx="605.0" cy="90.4" r="1.25" fill="#81ffb4"/><circle cx="604.3" cy="96.3" r="1.25" fill="#81ffb4"/><circle cx="604.9" cy="81.0" r="1.25" fill="#81ffb4"/><circle cx="606.2" cy="85.6" r="1.25" fill="#81ffb4"/><circle cx="609.2" cy="82.1" r="1.25" fill="#81ffb4"/><circle cx="604.9" cy="108.6" r="1.25" fill="#81ffb4"/><circle cx="606.1" cy="92.4" r="1.25" fill="#81ffb4"/><circle cx="604.7" cy="97.4" r="1.25" fill="#81ffb4"/><circle cx="610.0" cy="119.2" r="1.25" fill="#81ffb4"/><circle cx="606.9" cy="102.0" r="1.25" fill="#81ffb4"/><circle cx="604.6" cy="84.9" r="1.25" fill="#81ffb4"/><circle cx="605.6" cy="96.4" r="1.25" fill="#81ffb4"/><circle cx="605.0" cy="118.3" r="1.25" fill="#81ffb4"/><circle cx="609.7" cy="82.0" r="1.25" fill="#81ffb4"/><circle cx="604.9" cy="104.8" r="1.25" fill="#81ffb4"/><circle cx="604.2" cy="105.4" r="1.25" fill="#81ffb4"/><circle cx="609.9" cy="104.8" r="1.25" fill="#81ffb4"/><circle cx="608.2" cy="119.8" r="1.25" fill="#81ffb4"/><circle cx="606.2" cy="92.8" r="1.25" fill="#81ffb4"/><circle cx="608.6" cy="88.5" r="1.25" fill="#81ffb4"/><circle cx="608.7" cy="105.0" r="1.25" fill="#81ffb4"/><circle cx="605.3" cy="95.8" r="1.25" fill="#81ffb4"/><circle cx="609.9" cy="117.5" r="1.25" fill="#81ffb4"/><circle cx="608.8" cy="119.4" r="1.25" fill="#81ffb4"/><circle cx="608.4" cy="117.8" r="1.25" fill="#81ffb4"/><circle cx="607.1" cy="91.2" r="1.25" fill="#81ffb4"/><circle cx="604.2" cy="97.0" r="1.25" fill="#81ffb4"/><circle cx="605.7" cy="82.3" r="1.25" fill="#81ffb4"/><circle cx="608.2" cy="92.7" r="1.25" fill="#81ffb4"/><circle cx="606.7" cy="124.0" r="1.25" fill="#81ffb4"/><circle cx="609.9" cy="123.2" r="1.25" fill="#81ffb4"/><circle cx="606.2" cy="124.0" r="1.25" fill="#81ffb4"/><circle cx="605.4" cy="90.9" r="1.25" fill="#81ffb4"/><circle cx="605.2" cy="89.9" r="1.25" fill="#81ffb4"/><circle cx="609.4" cy="109.1" r="1.25" fill="#81ffb4"/><circle cx="606.9" cy="118.8" r="1.25" fill="#81ffb4"/><circle cx="608.8" cy="110.4" r="1.25" fill="#81ffb4"/><circle cx="608.0" cy="84.8" r="1.25" fill="#81ffb4"/><circle cx="608.7" cy="121.9" r="1.25" fill="#81ffb4"/><circle cx="606.9" cy="114.8" r="1.25" fill="#81ffb4"/><circle cx="608.7" cy="89.0" r="1.25" fill="#81ffb4"/><circle cx="608.8" cy="96.0" r="1.25" fill="#81ffb4"/><circle cx="606.4" cy="124.7" r="1.25" fill="#81ffb4"/><circle cx="609.7" cy="99.1" r="1.25" fill="#81ffb4"/><circle cx="605.0" cy="113.6" r="1.25" fill="#81ffb4"/><circle cx="604.9" cy="86.7" r="1.25" fill="#81ffb4"/><circle cx="608.8" cy="121.7" r="1.25" fill="#81ffb4"/><circle cx="609.0" cy="87.6" r="1.25" fill="#81ffb4"/><circle cx="607.9" cy="125.1" r="1.25" fill="#81ffb4"/><circle cx="607.3" cy="96.8" r="1.25" fill="#81ffb4"/><circle cx="604.1" cy="86.9" r="1.25" fill="#81ffb4"/><circle cx="607.9" cy="124.7" r="1.25" fill="#81ffb4"/><circle cx="609.6" cy="104.7" r="1.25" fill="#81ffb4"/><circle cx="609.2" cy="100.5" r="1.25" fill="#81ffb4"/><circle cx="605.3" cy="118.2" r="1.25" fill="#81ffb4"/><circle cx="605.8" cy="92.3" r="1.25" fill="#81ffb4"/><circle cx="607.5" cy="91.8" r="1.25" fill="#81ffb4"/><circle cx="606.5" cy="92.7" r="1.25" fill="#81ffb4"/><circle cx="609.5" cy="86.9" r="1.25" fill="#81ffb4"/><circle cx="606.7" cy="96.9" r="1.25" fill="#81ffb4"/><circle cx="609.4" cy="107.3" r="1.25" fill="#81ffb4"/><circle cx="609.5" cy="99.9" r="1.25" fill="#81ffb4"/><circle cx="607.2" cy="103.6" r="1.25" fill="#81ffb4"/><circle cx="604.1" cy="104.6" r="1.25" fill="#81ffb4"/><circle cx="605.1" cy="100.8" r="1.25" fill="#81ffb4"/><circle cx="608.8" cy="81.2" r="1.25" fill="#81ffb4"/><circle cx="606.8" cy="88.8" r="1.25" fill="#81ffb4"/><circle cx="607.3" cy="113.6" r="1.25" fill="#81ffb4"/><circle cx="607.1" cy="95.7" r="1.25" fill="#81ffb4"/><circle cx="608.7" cy="106.0" r="1.25" fill="#81ffb4"/><circle cx="607.4" cy="85.8" r="1.25" fill="#81ffb4"/><circle cx="605.7" cy="92.2" r="1.25" fill="#81ffb4"/><circle cx="603.8" cy="107.0" r="1.25" fill="#81ffb4"/><circle cx="604.9" cy="104.3" r="1.25" fill="#81ffb4"/><circle cx="603.5" cy="108.9" r="1.25" fill="#81ffb4"/><circle cx="603.8" cy="105.0" r="1.25" fill="#81ffb4"/><circle cx="604.6" cy="103.7" r="1.25" fill="#81ffb4"/><circle cx="603.9" cy="102.9" r="1.25" fill="#81ffb4"/><circle cx="605.7" cy="103.2" r="1.25" fill="#81ffb4"/><circle cx="605.4" cy="106.1" r="1.25" fill="#81ffb4"/><circle cx="602.7" cy="109.2" r="1.25" fill="#81ffb4"/><circle cx="605.7" cy="104.3" r="1.25" fill="#81ffb4"/><circle cx="602.1" cy="107.9" r="1.25" fill="#81ffb4"/><circle cx="603.5" cy="98.6" r="1.25" fill="#81ffb4"/><circle cx="602.6" cy="97.9" r="1.25" fill="#81ffb4"/><circle cx="604.5" cy="98.0" r="1.25" fill="#81ffb4"/><circle cx="605.5" cy="107.2" r="1.25" fill="#81ffb4"/><circle cx="604.7" cy="99.0" r="1.25" fill="#81ffb4"/><circle cx="602.1" cy="105.6" r="1.25" fill="#81ffb4"/><circle cx="605.9" cy="108.5" r="1.25" fill="#81ffb4"/><circle cx="605.8" cy="99.9" r="1.25" fill="#81ffb4"/><circle cx="603.7" cy="102.2" r="1.25" fill="#81ffb4"/><circle cx="605.2" cy="109.9" r="1.25" fill="#81ffb4"/><circle cx="603.4" cy="99.1" r="1.25" fill="#81ffb4"/><circle cx="603.0" cy="103.7" r="1.25" fill="#81ffb4"/><circle cx="602.9" cy="99.5" r="1.25" fill="#81ffb4"/><circle cx="601.6" cy="106.4" r="1.25" fill="#81ffb4"/><circle cx="607.3" cy="127.3" r="1.25" fill="#81ffb4"/><circle cx="606.8" cy="124.1" r="1.25" fill="#81ffb4"/><circle cx="607.5" cy="127.7" r="1.25" fill="#81ffb4"/><circle cx="609.4" cy="124.4" r="1.25" fill="#81ffb4"/><circle cx="609.4" cy="128.7" r="1.25" fill="#81ffb4"/><circle cx="606.6" cy="124.6" r="1.25" fill="#81ffb4"/><circle cx="608.6" cy="124.2" r="1.25" fill="#81ffb4"/><circle cx="606.0" cy="125.6" r="1.25" fill="#81ffb4"/><circle cx="602.3" cy="119.3" r="1.25" fill="#8000ff"/><circle cx="603.3" cy="112.4" r="1.25" fill="#8000ff"/><circle cx="602.8" cy="108.0" r="1.25" fill="#8000ff"/><circle cx="604.4" cy="117.9" r="1.25" fill="#8000ff"/><circle cx="603.5" cy="104.0" r="1.25" fill="#8000ff"/><circle cx="604.4" cy="88.3" r="1.25" fill="#8000ff"/><circle cx="604.6" cy="110.6" r="1.25" fill="#8000ff"/><circle cx="602.2" cy="117.2" r="1.25" fill="#8000ff"/><circle cx="603.5" cy="100.7" r="1.25" fill="#8000ff"/><circle cx="603.6" cy="86.9" r="1.25" fill="#8000ff"/><circle cx="602.5" cy="92.4" r="1.25" fill="#8000ff"/><circle cx="604.6" cy="88.2" r="1.25" fill="#8000ff"/><circle cx="602.9" cy="90.9" r="1.25" fill="#8000ff"/><circle cx="604.2" cy="100.9" r="1.25" fill="#8000ff"/><circle cx="603.6" cy="89.1" r="1.25" fill="#8000ff"/><circle cx="604.2" cy="106.9" r="1.25" fill="#8000ff"/><circle cx="604.2" cy="117.1" r="1.25" fill="#8000ff"/><circle cx="603.5" cy="96.6" r="1.25" fill="#8000ff"/><circle cx="605.0" cy="99.6" r="1.25" fill="#8000ff"/><circle cx="601.8" cy="122.4" r="1.25" fill="#8000ff"/><circle cx="604.2" cy="74.8" r="1.1" fill="#8000ff"/><circle cx="605.8" cy="78.9" r="1.1" fill="#8000ff"/><circle cx="605.0" cy="81.3" r="1.1" fill="#8000ff"/><circle cx="602.9" cy="85.3" r="1.1" fill="#8000ff"/><circle cx="602.1" cy="134.3" r="1.1" fill="#8000ff"/><circle cx="603.3" cy="137.0" r="1.1" fill="#8000ff"/><circle cx="515.3" cy="128.2" r="1.1" fill="#4df3ce"/><circle cx="537.8" cy="122" r="1.1" fill="#18cde4"/><circle cx="615.4" cy="80.8" r="1.0" fill="#81ffb4"/><polygon points="787.5,486 795,485.2 805,484 812.6,481.6 820.2,480.9 829.4,481.5 830.6,483.6 827,486.6 820,487.3 814.5,487.6 808.8,489 800,490.3 790,490.6 787.5,489.6" fill="#81ffb4"/><circle opacity="0.7" cx="780.8" cy="486.0" r="1.1" fill="#81ffb4"/><circle opacity="0.7" cx="782.5" cy="486.2" r="1.1" fill="#81ffb4"/><circle opacity="0.7" cx="784.5" cy="486.0" r="1.1" fill="#81ffb4"/><circle opacity="0.7" cx="781.0" cy="488.8" r="1.1" fill="#81ffb4"/><circle opacity="0.7" cx="783.2" cy="489.0" r="1.1" fill="#81ffb4"/><circle opacity="0.7" cx="785.3" cy="488.8" r="1.1" fill="#81ffb4"/><circle opacity="0.7" cx="786.5" cy="487.5" r="1.1" fill="#81ffb4"/><polygon points="806.5,482.6 811.5,481.4 816.5,481.3 816,482.9 811.5,484.6 807,484.9" fill="#8000ff"/><polygon points="787.2,487.3 797.7,487 797.7,489 787.2,489.2" fill="#8000ff" opacity="0.85"/><polygon points="814.5,487 818.7,487.3 818.7,488.8 814.5,488.8" fill="#8000ff"/><polygon points="823.3,486.8 827.9,486.8 827.9,488.2 823.3,488.2" fill="#8000ff"/><circle cx="772.8" cy="485.3" r="1.2" fill="#8000ff"/><circle cx="775.6" cy="487.6" r="1.2" fill="#8000ff"/><circle cx="796.2" cy="484.4" r="1.2" fill="#8000ff"/><circle cx="804.4" cy="483.2" r="1.2" fill="#8000ff"/><circle cx="807.6" cy="483.6" r="1.2" fill="#8000ff"/><circle cx="831.7" cy="484.0" r="1.2" fill="#8000ff"/><circle cx="833.8" cy="486.5" r="1.2" fill="#8000ff"/><circle cx="838.1" cy="483.0" r="1.2" fill="#8000ff"/><circle cx="825.4" cy="485.0" r="1.2" fill="#8000ff"/><circle cx="794.0" cy="488.5" r="1.2" fill="#8000ff"/><circle cx="791.0" cy="488.0" r="1.2" fill="#8000ff"/><circle cx="830.9" cy="486.1" r="1.2" fill="#81ffb4"/><circle cx="831.9" cy="491.6" r="1.2" fill="#81ffb4"/><circle cx="812.0" cy="489.5" r="1.2" fill="#81ffb4"/><circle cx="809.5" cy="489.8" r="1.2" fill="#81ffb4"/><circle cx="788.8" cy="423" r="1.1" fill="#18cde4"/><circle cx="782" cy="461.4" r="1.1" fill="#4df3ce"/><line x1="789.5" y1="158" x2="789.5" y2="652" stroke="#7f7f7f" stroke-width="1"/><line x1="825.5" y1="158" x2="825.5" y2="652" stroke="#7f7f7f" stroke-width="1"/><rect x="242" y="54" width="620" height="103.5" fill="none" stroke="#000" stroke-width="2"/><line x1="241" y1="157.5" x2="863" y2="157.5" stroke="#000" stroke-width="3"/><line x1="752.5" y1="53" x2="752.5" y2="654" stroke="#000" stroke-width="3"/><rect x="752" y="157" width="110" height="496" fill="none" stroke="#000" stroke-width="2"/><defs><linearGradient id="cb" x1="0" x2="1" y1="0" y2="0"><stop offset="0.000" stop-color="#8000ff"/><stop offset="0.025" stop-color="#7413ff"/><stop offset="0.050" stop-color="#6826fe"/><stop offset="0.075" stop-color="#5a3bfd"/><stop offset="0.100" stop-color="#4e4dfc"/><stop offset="0.125" stop-color="#4062fa"/><stop offset="0.150" stop-color="#3473f8"/><stop offset="0.175" stop-color="#2884f6"/><stop offset="0.200" stop-color="#1996f3"/><stop offset="0.225" stop-color="#0ea5ef"/><stop offset="0.250" stop-color="#00b5eb"/><stop offset="0.275" stop-color="#0dc2e8"/><stop offset="0.300" stop-color="#18cde4"/><stop offset="0.325" stop-color="#27dade"/><stop offset="0.350" stop-color="#32e3da"/><stop offset="0.375" stop-color="#40ecd4"/><stop offset="0.400" stop-color="#4df3ce"/><stop offset="0.425" stop-color="#58f8c9"/><stop offset="0.450" stop-color="#66fcc2"/><stop offset="0.475" stop-color="#72febb"/><stop offset="0.500" stop-color="#80ffb4"/><stop offset="0.525" stop-color="#8cfead"/><stop offset="0.550" stop-color="#99fca6"/><stop offset="0.575" stop-color="#a6f89d"/><stop offset="0.600" stop-color="#b2f396"/><stop offset="0.625" stop-color="#c0eb8d"/><stop offset="0.650" stop-color="#cce385"/><stop offset="0.675" stop-color="#d9da7d"/><stop offset="0.700" stop-color="#e6cd73"/><stop offset="0.725" stop-color="#f2c26b"/><stop offset="0.750" stop-color="#ffb360"/><stop offset="0.775" stop-color="#ffa558"/><stop offset="0.800" stop-color="#ff964f"/><stop offset="0.825" stop-color="#ff8444"/><stop offset="0.850" stop-color="#ff733b"/><stop offset="0.875" stop-color="#ff5f30"/><stop offset="0.900" stop-color="#ff4d27"/><stop offset="0.925" stop-color="#ff3b1e"/><stop offset="0.950" stop-color="#ff2613"/><stop offset="0.975" stop-color="#ff1309"/><stop offset="1.000" stop-color="#ff0000"/></linearGradient></defs><rect x="158.5" y="690.5" width="787" height="38" fill="url(#cb)" stroke="#000" stroke-width="1"/><line x1="158.5" y1="729" x2="158.5" y2="733" stroke="#000" stroke-width="1"/><line x1="315.9" y1="729" x2="315.9" y2="733" stroke="#000" stroke-width="1"/><line x1="473.3" y1="729" x2="473.3" y2="733" stroke="#000" stroke-width="1"/><line x1="630.7" y1="729" x2="630.7" y2="733" stroke="#000" stroke-width="1"/><line x1="788.1" y1="729" x2="788.1" y2="733" stroke="#000" stroke-width="1"/><line x1="945.5" y1="729" x2="945.5" y2="733" stroke="#000" stroke-width="1"/>
<g><text x="299.60" y="45.80" font-size="23.50" text-anchor="start" fill="#000" textLength="503.70" lengthAdjust="spacingAndGlyphs">SAETTA Lightning Mapping Array - 16/08/11</text><text x="219.30" y="51.90" font-size="10.40" text-anchor="start" fill="#000" textLength="12.72" lengthAdjust="spacingAndGlyphs">15</text><text x="219.30" y="87.10" font-size="10.40" text-anchor="start" fill="#000" textLength="12.72" lengthAdjust="spacingAndGlyphs">10</text><text x="219.30" y="122.20" font-size="10.40" text-anchor="start" fill="#000" textLength="6.36" lengthAdjust="spacingAndGlyphs">5</text><text x="219.30" y="157.20" font-size="10.40" text-anchor="start" fill="#000" textLength="6.36" lengthAdjust="spacingAndGlyphs">0</text><text x="186.20" y="105.00" font-size="12.50" text-anchor="start" fill="#000" textLength="19.23" lengthAdjust="spacingAndGlyphs">Km</text><text x="234.00" y="211.30" font-size="10.60" text-anchor="end" fill="#000" textLength="34.75" lengthAdjust="spacingAndGlyphs">44.5°N</text><text x="234.00" y="262.30" font-size="10.60" text-anchor="end" fill="#000" textLength="25.21" lengthAdjust="spacingAndGlyphs">44°N</text><text x="234.00" y="312.30" font-size="10.60" text-anchor="end" fill="#000" textLength="34.75" lengthAdjust="spacingAndGlyphs">43.5°N</text><text x="234.00" y="362.30" font-size="10.60" text-anchor="end" fill="#000" textLength="25.21" lengthAdjust="spacingAndGlyphs">43°N</text><text x="234.00" y="412.30" font-size="10.60" text-anchor="end" fill="#000" textLength="34.75" lengthAdjust="spacingAndGlyphs">42.5°N</text><text x="234.00" y="461.30" font-size="10.60" text-anchor="end" fill="#000" textLength="25.21" lengthAdjust="spacingAndGlyphs">42°N</text><text x="234.00" y="510.30" font-size="10.60" text-anchor="end" fill="#000" textLength="34.75" lengthAdjust="spacingAndGlyphs">41.5°N</text><text x="234.00" y="559.30" font-size="10.60" text-anchor="end" fill="#000" textLength="25.21" lengthAdjust="spacingAndGlyphs">41°N</text><text x="234.00" y="607.30" font-size="10.60" text-anchor="end" fill="#000" textLength="34.75" lengthAdjust="spacingAndGlyphs">40.5°N</text><text x="234.00" y="655.30" font-size="10.60" text-anchor="end" fill="#000" textLength="25.21" lengthAdjust="spacingAndGlyphs">40°N</text><text x="241.50" y="667.00" font-size="10.60" text-anchor="middle" fill="#000" textLength="17.68" lengthAdjust="spacingAndGlyphs">5°E</text><text x="278.00" y="667.00" font-size="10.60" text-anchor="middle" fill="#000" textLength="27.22" lengthAdjust="spacingAndGlyphs">5.5°E</text><text x="314.50" y="667.00" font-size="10.60" text-anchor="middle" fill="#000" textLength="17.68" lengthAdjust="spacingAndGlyphs">6°E</text><text x="351.00" y="667.00" font-size="10.60" text-anchor="middle" fill="#000" textLength="27.22" lengthAdjust="spacingAndGlyphs">6.5°E</text><text x="387.50" y="667.00" font-size="10.60" text-anchor="middle" fill="#000" textLength="17.68" lengthAdjust="spacingAndGlyphs">7°E</text><text x="424.00" y="667.00" font-size="10.60" text-anchor="middle" fill="#000" textLength="27.22" lengthAdjust="spacingAndGlyphs">7.5°E</text><text x="460.50" y="667.00" font-size="10.60" text-anchor="middle" fill="#000" textLength="17.68" lengthAdjust="spacingAndGlyphs">8°E</text><text x="497.00" y="667.00" font-size="10.60" text-anchor="middle" fill="#000" textLength="27.22" lengthAdjust="spacingAndGlyphs">8.5°E</text><text x="533.50" y="667.00" font-size="10.60" text-anchor="middle" fill="#000" textLength="17.68" lengthAdjust="spacingAndGlyphs">9°E</text><text x="570.00" y="667.00" font-size="10.60" text-anchor="middle" fill="#000" textLength="27.22" lengthAdjust="spacingAndGlyphs">9.5°E</text><text x="606.50" y="667.00" font-size="10.60" text-anchor="middle" fill="#000" textLength="24.04" lengthAdjust="spacingAndGlyphs">10°E</text><text x="643.00" y="667.00" font-size="10.60" text-anchor="middle" fill="#000" textLength="33.59" lengthAdjust="spacingAndGlyphs">10.5°E</text><text x="679.50" y="667.00" font-size="10.60" text-anchor="middle" fill="#000" textLength="24.04" lengthAdjust="spacingAndGlyphs">11°E</text><text x="716.00" y="667.00" font-size="10.60" text-anchor="middle" fill="#000" textLength="33.59" lengthAdjust="spacingAndGlyphs">11.5°E</text><text x="752.50" y="666.80" font-size="10.40" text-anchor="start" fill="#000" textLength="6.36" lengthAdjust="spacingAndGlyphs">0</text><text x="789.00" y="666.80" font-size="10.40" text-anchor="start" fill="#000" textLength="6.36" lengthAdjust="spacingAndGlyphs">5</text><text x="825.50" y="666.80" font-size="10.40" text-anchor="start" fill="#000" textLength="12.72" lengthAdjust="spacingAndGlyphs">10</text><text x="862.00" y="666.80" font-size="10.40" text-anchor="start" fill="#000" textLength="12.72" lengthAdjust="spacingAndGlyphs">15</text><text x="807.50" y="676.00" font-size="12.50" text-anchor="start" fill="#000" textLength="19.23" lengthAdjust="spacingAndGlyphs">Km</text><text x="772.80" y="83.70" font-size="10.40" text-anchor="middle" fill="#000" textLength="6.36" lengthAdjust="spacingAndGlyphs">6</text><text x="784.30" y="83.70" font-size="10.40" text-anchor="middle" fill="#000" textLength="3.37" lengthAdjust="spacingAndGlyphs">:</text><text x="815.80" y="83.70" font-size="10.40" text-anchor="middle" fill="#000" textLength="25.45" lengthAdjust="spacingAndGlyphs">1041</text><text x="772.80" y="93.80" font-size="10.40" text-anchor="middle" fill="#ff0000" textLength="6.36" lengthAdjust="spacingAndGlyphs">7</text><text x="784.30" y="93.80" font-size="10.40" text-anchor="middle" fill="#ff0000" textLength="3.37" lengthAdjust="spacingAndGlyphs">:</text><text x="815.80" y="93.80" font-size="10.40" text-anchor="middle" fill="#ff0000" textLength="19.09" lengthAdjust="spacingAndGlyphs">400</text><text x="772.80" y="104.70" font-size="10.40" text-anchor="middle" fill="#000" textLength="6.36" lengthAdjust="spacingAndGlyphs">8</text><text x="784.30" y="104.70" font-size="10.40" text-anchor="middle" fill="#000" textLength="3.37" lengthAdjust="spacingAndGlyphs">:</text><text x="815.80" y="104.70" font-size="10.40" text-anchor="middle" fill="#000" textLength="19.09" lengthAdjust="spacingAndGlyphs">176</text><text x="772.80" y="114.80" font-size="10.40" text-anchor="middle" fill="#000" textLength="6.36" lengthAdjust="spacingAndGlyphs">9</text><text x="784.30" y="114.80" font-size="10.40" text-anchor="middle" fill="#000" textLength="3.37" lengthAdjust="spacingAndGlyphs">:</text><text x="815.80" y="114.80" font-size="10.40" text-anchor="middle" fill="#000" textLength="12.72" lengthAdjust="spacingAndGlyphs">63</text><text x="772.80" y="125.70" font-size="10.40" text-anchor="middle" fill="#000" textLength="12.72" lengthAdjust="spacingAndGlyphs">10</text><text x="788.00" y="125.70" font-size="10.40" text-anchor="middle" fill="#000" textLength="3.37" lengthAdjust="spacingAndGlyphs">:</text><text x="819.20" y="125.70" font-size="10.40" text-anchor="middle" fill="#000" textLength="12.72" lengthAdjust="spacingAndGlyphs">13</text><text x="772.80" y="135.70" font-size="10.40" text-anchor="middle" fill="#000" textLength="12.72" lengthAdjust="spacingAndGlyphs">11</text><text x="788.00" y="135.70" font-size="10.40" text-anchor="middle" fill="#000" textLength="3.37" lengthAdjust="spacingAndGlyphs">:</text><text x="819.20" y="135.70" font-size="10.40" text-anchor="middle" fill="#000" textLength="6.36" lengthAdjust="spacingAndGlyphs">1</text><text x="772.80" y="145.60" font-size="10.40" text-anchor="middle" fill="#000" textLength="12.72" lengthAdjust="spacingAndGlyphs">12</text><text x="788.00" y="145.60" font-size="10.40" text-anchor="middle" fill="#000" textLength="3.37" lengthAdjust="spacingAndGlyphs">:</text><text x="819.20" y="145.60" font-size="10.40" text-anchor="middle" fill="#000" textLength="6.36" lengthAdjust="spacingAndGlyphs">0</text><text x="158.50" y="743.00" font-size="10.40" text-anchor="middle" fill="#000" textLength="6.36" lengthAdjust="spacingAndGlyphs">0</text><text x="315.90" y="743.00" font-size="10.40" text-anchor="middle" fill="#000" textLength="6.36" lengthAdjust="spacingAndGlyphs">2</text><text x="473.30" y="743.00" font-size="10.40" text-anchor="middle" fill="#000" textLength="6.36" lengthAdjust="spacingAndGlyphs">4</text><text x="630.70" y="743.00" font-size="10.40" text-anchor="middle" fill="#000" textLength="6.36" lengthAdjust="spacingAndGlyphs">6</text><text x="788.10" y="743.00" font-size="10.40" text-anchor="middle" fill="#000" textLength="6.36" lengthAdjust="spacingAndGlyphs">8</text><text x="945.50" y="743.00" font-size="10.40" text-anchor="middle" fill="#000" textLength="12.72" lengthAdjust="spacingAndGlyphs">10</text><text x="432.80" y="718.70" font-size="19.00" text-anchor="start" fill="#000" textLength="249.60" lengthAdjust="spacingAndGlyphs">from 08:20:00 to 08:29:59</text></g>
</svg>
</body></html>
